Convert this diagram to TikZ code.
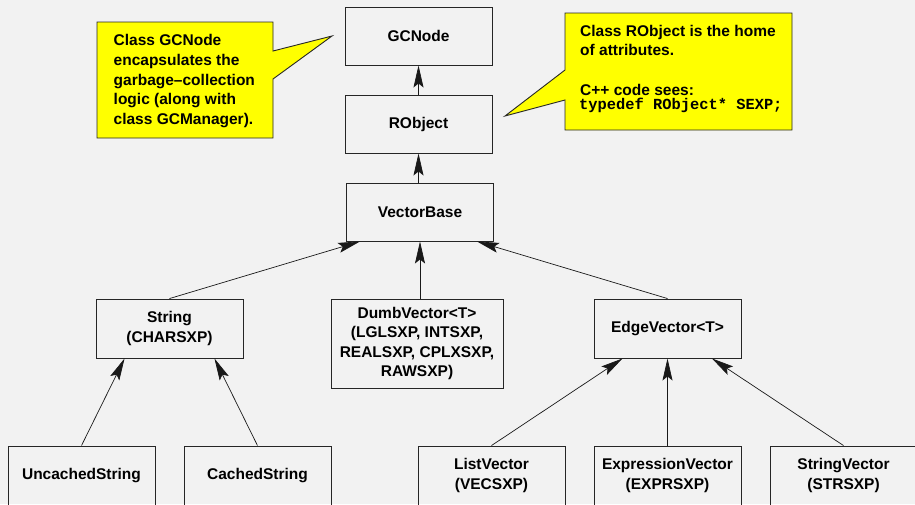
\documentclass[tikz,border=0pt]{standalone}
\usepackage{fontspec}
\setmainfont{Liberation Sans}
\newfontfamily\monob{Liberation Mono}
\usetikzlibrary{arrows.meta,calc}
\definecolor{bg}{HTML}{F2F2F2}
\definecolor{callyel}{HTML}{FFFF00}
\begin{document}
\begin{tikzpicture}[x=1pt,y=-1pt,
  lbl/.style={font=\bfseries\fontsize{15.5}{19.6}\selectfont},
  box/.style={lbl, draw=black!85, line width=0.9pt, rectangle, inner sep=0pt,
              minimum width=147pt, minimum height=58pt, align=center},
  txt/.style={lbl, anchor=base west, inner sep=0pt},
  calloutshape/.style={fill=callyel, draw=black!85, line width=0.9pt, line join=miter},
  inh/.style={-{Stealth[length=22pt,width=10pt,inset=4pt]}, line width=0.7pt, draw=black!90}]
\useasboundingbox (0,0) rectangle (915,504);
\clip (0,0) rectangle (915,504);
\fill[bg] (0,0) rectangle (915,504);

% callouts
\draw[calloutshape] (97,22) -- (273,22) -- (273,51) -- (332,36) -- (273,79)
  -- (273,138) -- (97,138) -- cycle;
\draw[calloutshape] (565,13) -- (792,13) -- (792,130) -- (565,130) -- (565,100)
  -- (505,116) -- (565,70) -- cycle;

\node[txt] (l1) at (113.5,45.7) {Class GCNode};
\node[txt] (l2) at (113.5,65.4) {encapsulates the};
\node[txt] (l3) at (113.5,85.1) {garbage\textendash collection};
\node[txt] (l4) at (113.5,104.8) {logic (along with};
\node[txt] (l5) at (113.5,124.5) {class GCManager).};

\node[txt] (r1) at (580,36) {Class RObject is the home};
\node[txt] (r2) at (580,55.6) {of attributes.};
\node[txt] (r3) at (580,95) {C++ code sees:};
\node[txt, font=\monob\bfseries\fontsize{15.4}{18}\selectfont] (r4) at (579,109) {typedef RObject* SEXP;};

% boxes
\node[box] (gc) at (418.5,36) {GCNode};
\node[box] (ro) at (418.5,124) {RObject};
\node[box] (vb) at (420,212) {VectorBase};
\node[box, minimum height=59pt] (str) at (169.5,328.5) {String\\(CHARSXP)};
\node[box, minimum width=172pt, minimum height=89pt] (dv) at (417,343.5)
  {DumbVector<T>\\(LGLSXP, INTSXP,\\REALSXP, CPLXSXP,\\RAWSXP)};
\node[box, minimum height=59pt] (ev) at (667.5,328.5) {EdgeVector<T>};
\node[box, minimum height=59pt] (uc) at (81.5,475.5) {UncachedString};
\node[box, minimum height=59pt] (cs) at (257.5,475.5) {CachedString};
\node[box, minimum height=59pt] (lv) at (491.5,475.5) {ListVector\\(VECSXP)};
\node[box, minimum height=59pt] (xv) at (667.5,475.5) {ExpressionVector\\(EXPRSXP)};
\node[box, minimum height=59pt] (sv) at (843.5,475.5) {StringVector\\(STRSXP)};

% inheritance arrows
\draw[inh] (ro.north) -- (gc.south);
\draw[inh] (vb.north -| ro.south) -- (ro.south);
\draw[inh] (str.north) -- ($(vb.south west)+(14,0)$);
\draw[inh] (dv.north -| vb.south) -- (vb.south);
\draw[inh] (ev.north) -- ($(vb.south east)+(-17,0)$);
\draw[inh] (uc.north) -- ($(str.south west)+(29,0)$);
\draw[inh] (cs.north) -- ($(str.south east)+(-29,0)$);
\draw[inh] (lv.north) -- ($(ev.south west)+(29,0)$);
\draw[inh] (xv.north) -- (ev.south);
\draw[inh] (sv.north) -- ($(ev.south east)+(-29.5,0)$);
\end{tikzpicture}
\end{document}
